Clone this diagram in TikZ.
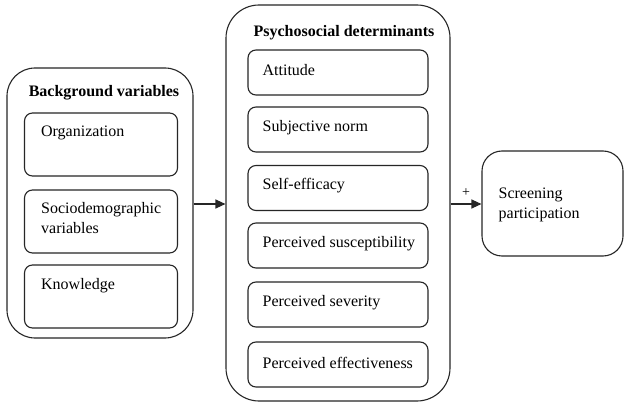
\documentclass[tikz,border=0pt]{standalone}
\usepackage{fontspec}
\setmainfont{Liberation Serif}
\usetikzlibrary{arrows.meta}
\begin{document}
\begin{tikzpicture}[x=1pt,y=-1pt,
  box/.style={draw=black!85, line width=1.1pt, rounded corners=#1, inner sep=0pt, fill=white},
  box/.default=8pt,
  txt/.style={font=\fontsize{16}{20}\selectfont, inner sep=0pt, align=left},
  ttl/.style={font=\fontsize{16}{20}\selectfont\bfseries, inner sep=0pt},
  arr/.style={draw=black!85, line width=1.1pt, -{Triangle[length=10pt,width=9pt]}}]
\useasboundingbox (0,0) rectangle (626,403);
% left group
\node[box=28pt, minimum width=186pt, minimum height=270pt] (lo) at (100,203) {};
\node[ttl] (lot) at (104,93) {Background variables};
\node[box, minimum width=153pt, minimum height=63pt] (org) at (101,144.5) {};
\node[box, minimum width=153pt, minimum height=63pt] (soc) at (101,221.5) {};
\node[box, minimum width=153pt, minimum height=63pt] (kno) at (101,296.5) {};
\node[txt, anchor=west] (orgt) at ([xshift=17pt,yshift=-20pt]org.north west) {Organization};
\node[txt, anchor=north west] (soct) at ([xshift=17pt,yshift=-13pt]soc.north west) {Sociodemographic\\variables};
\node[txt, anchor=west] (knot) at ([xshift=17pt,yshift=-21pt]kno.north west) {Knowledge};
% middle group
\node[box=33pt, minimum width=224pt, minimum height=396pt] (mo) at (338,203) {};
\node[ttl] (mot) at (344,33) {Psychosocial determinants};
\foreach \n/\y/\t in {att/72.5/Attitude, sub/129.5/Subjective norm, sel/188/Self-efficacy,
  sus/245.5/Perceived susceptibility, sev/304.5/Perceived severity, eff/364.5/Perceived effectiveness}{
  \node[box, minimum width=180pt, minimum height=45pt] (\n) at (338,\y) {};
  \node[txt, anchor=west] (\n t) at ([xshift=15pt,yshift=2pt]\n.west) {\t};
}
% outcome
\node[box=20pt, minimum width=141pt, minimum height=105pt] (scr) at (552.5,203.5) {};
\node[txt, anchor=west] (scrt) at ([xshift=17pt,yshift=-1pt]scr.west) {Screening\\participation};
% arrows
\draw[arr] (lo.east |- 0,204) coordinate (a1) -- (a1 -| mo.west);
\draw[arr] (mo.east |- 0,204) coordinate (a2) -- node[above=7pt, font=\fontsize{14}{16}\selectfont, inner sep=0pt] (plus) {+} (a2 -| scr.west);
\end{tikzpicture}
\end{document}
